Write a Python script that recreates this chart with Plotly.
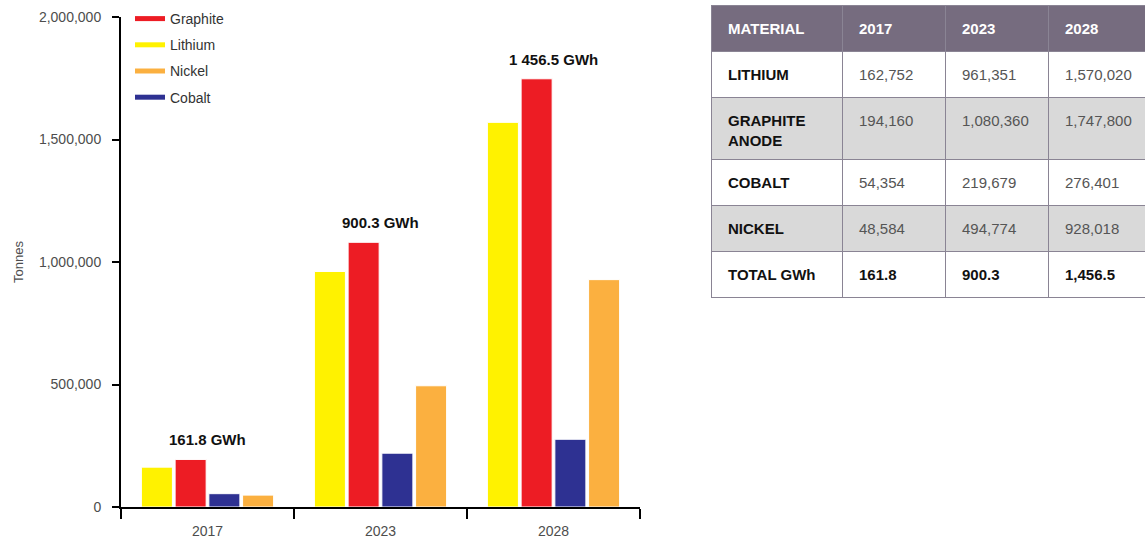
import plotly.graph_objects as go

# Battery material demand (tonnes) by year
years = ["2017", "2023", "2028"]
lithium = [162752, 961351, 1570020]
graphite = [194160, 1080360, 1747800]
cobalt = [54354, 219679, 276401]
nickel = [48584, 494774, 928018]
gwh_labels = ["161.8 GWh", "900.3 GWh", "1 456.5 GWh"]

# Table contents
table_header = ["MATERIAL", "2017", "2023", "2028"]
table_materials = ["LITHIUM", "GRAPHITE<br>ANODE", "COBALT", "NICKEL", "TOTAL GWh"]
table_2017 = ["162,752", "194,160", "54,354", "48,584", "161.8"]
table_2023 = ["961,351", "1,080,360", "219,679", "494,774", "900.3"]
table_2028 = ["1,570,020", "1,747,800", "276,401", "928,018", "1,456.5"]

W, H = 1145, 539
FONT = "Liberation Sans, Arial, sans-serif"

colors = {
    "Lithium": "#fff200",
    "Graphite": "#ed1c24",
    "Cobalt": "#2e3192",
    "Nickel": "#fbb040",
}

fig = go.Figure()

# Bars in plotting order
for name, vals in [("Lithium", lithium), ("Graphite", graphite),
                   ("Cobalt", cobalt), ("Nickel", nickel)]:
    fig.add_trace(go.Bar(
        x=years, y=vals, name=name, showlegend=False,
        marker=dict(color=colors[name], line=dict(color="white", width=1)),
    ))

# Legend entries drawn as short thick lines
for i, name in enumerate(["Graphite", "Lithium", "Nickel", "Cobalt"]):
    fig.add_trace(go.Scatter(
        x=[None], y=[None], mode="lines", name=name,
        line=dict(color=colors[name], width=5),
        legendgroup=name, legendrank=i + 1,
    ))

# Total GWh labels above each year group (category index positions)
for i, (g, lab) in enumerate(zip(graphite, gwh_labels)):
    fig.add_annotation(
        x=i, y=g, xref="x", yref="y", text="<b>%s</b>" % lab,
        showarrow=False, yanchor="bottom", yshift=9,
        font=dict(family=FONT, size=15, color="#111111"),
    )

# ---- Data table -------------------------------------------------------
# Split in two blocks so the two-line GRAPHITE ANODE row can be taller,
# and drawn in two layers: cell backgrounds/borders, then inset text.
TL, TR, TT = 711, 1145, 5          # table left / right / top (px)
ROW_H, TALL_H = 46, 62
COLW = [131, 103, 103, 97]
INSET_X, INSET_Y = 9, 7
HEAD_FILL, GREY_FILL, LINE = "#766c7f", "#d9d9d9", "#8a8494"
DARK, MID = "#111111", "#555555"
CLEAR = "rgba(0,0,0,0)"


def b(s):
    return "<b>%s</b>" % s


def bold_lines(s):
    return "<br>".join(b(p) for p in s.split("<br>"))


columns = [table_materials, table_2017, table_2023, table_2028]
n_rows = len(table_materials)
row_fill = ["white" if i % 2 == 0 else GREY_FILL for i in range(n_rows)]


def cell_text(ci, ri):
    v = columns[ci][ri]
    if ci == 0:
        return bold_lines(v)
    # every cell goes through the same rich-text path for equal baselines
    return b(v) if ri == n_rows - 1 else "<span>%s</span>" % v


def cell_color(ci, ri):
    return DARK if (ci == 0 or ri == n_rows - 1) else MID


# block 1: header row + first data row; block 2: tall row as header + rest
blocks = [
    dict(top=TT, head_h=ROW_H,
         head=[b(h) for h in table_header], head_fill=[HEAD_FILL] * 4,
         head_color=["white"] * 4, rows=[0]),
    dict(top=TT + 2 * ROW_H, head_h=TALL_H,
         head=[cell_text(c, 1) for c in range(4)], head_fill=[row_fill[1]] * 4,
         head_color=[cell_color(c, 1) for c in range(4)], rows=[2, 3, 4]),
]


def px_domain(left, right, top, bottom):
    return dict(x=[left / W, min(right / W, 1.0)], y=[max(1 - bottom / H, 0), 1 - top / H])


for layer in ("back", "text"):
    for blk in blocks:
        rows = blk["rows"]
        height = blk["head_h"] + ROW_H * len(rows)
        if layer == "back":
            dom = px_domain(TL, TR, blk["top"], blk["top"] + height + 12)
            colw = COLW
            head_vals = [""] * 4
            cell_vals = [[""] * len(rows) for _ in range(4)]
            head_fill, head_line = blk["head_fill"], LINE
            cell_fill = [[row_fill[r] for r in rows]] * 4
            cell_line = LINE
            head_font_c = ["white"] * 4
            cell_font_c = [[DARK] * len(rows)] * 4
        else:
            dom = px_domain(TL + INSET_X, TR, blk["top"] + INSET_Y,
                            blk["top"] + INSET_Y + height + 12)
            colw = COLW[:3] + [COLW[3] - INSET_X]
            head_vals = blk["head"]
            cell_vals = [[cell_text(c, r) for r in rows] for c in range(4)]
            head_fill, head_line = [CLEAR] * 4, CLEAR
            cell_fill = [[CLEAR] * len(rows)] * 4
            cell_line = CLEAR
            head_font_c = blk["head_color"]
            cell_font_c = [[cell_color(c, r) for r in rows] for c in range(4)]
        fig.add_trace(go.Table(
            domain=dom,
            columnwidth=colw,
            header=dict(
                values=head_vals, fill_color=head_fill,
                line=dict(color=head_line, width=1),
                font=dict(family=FONT, size=15, color=head_font_c),
                align="left", height=blk["head_h"],
            ),
            cells=dict(
                values=cell_vals, fill_color=cell_fill,
                line=dict(color=cell_line, width=1),
                font=dict(family=FONT, size=15, color=cell_font_c),
                align="left", height=ROW_H,
            ),
        ))

fig.update_layout(
    width=W, height=H,
    margin=dict(l=0, r=0, t=0, b=0, autoexpand=False),
    paper_bgcolor="white", plot_bgcolor="white",
    font=dict(family=FONT, size=14, color="#4d4d4d"),
    barmode="group", bargap=0.22, bargroupgap=0.08,
    showlegend=True,
    legend=dict(
        x=130 / W, y=1 - 3 / H, xanchor="left", yanchor="top",
        bgcolor="rgba(0,0,0,0)", traceorder="grouped", tracegroupgap=5,
        font=dict(family=FONT, size=14, color="#333333"),
    ),
    xaxis=dict(
        domain=[121 / W, 640 / W], type="category", range=[-0.5, 2.5],
        automargin=False,
        showline=True, linecolor="black", linewidth=2,
        ticks="outside", tickson="boundaries", ticklen=10, tickwidth=2, tickcolor="black",
        ticklabelstandoff=10,
        showgrid=False, zeroline=False,
        tickfont=dict(family=FONT, size=14, color="#4d4d4d"),
    ),
    yaxis=dict(
        domain=[1 - 507 / H, 1 - 17 / H], range=[0, 2000000],
        automargin=False,
        tickvals=[0, 500000, 1000000, 1500000, 2000000], tickformat=",d",
        showline=True, linecolor="black", linewidth=2,
        ticks="outside", ticklen=7, tickwidth=2, tickcolor="black",
        ticklabelstandoff=8,
        showgrid=False, zeroline=False,
        tickfont=dict(family=FONT, size=14, color="#4d4d4d"),
        title=dict(text="Tonnes", standoff=12, font=dict(family=FONT, size=13, color="#4d4d4d")),
    ),
)

fig.write_html("out.html")
